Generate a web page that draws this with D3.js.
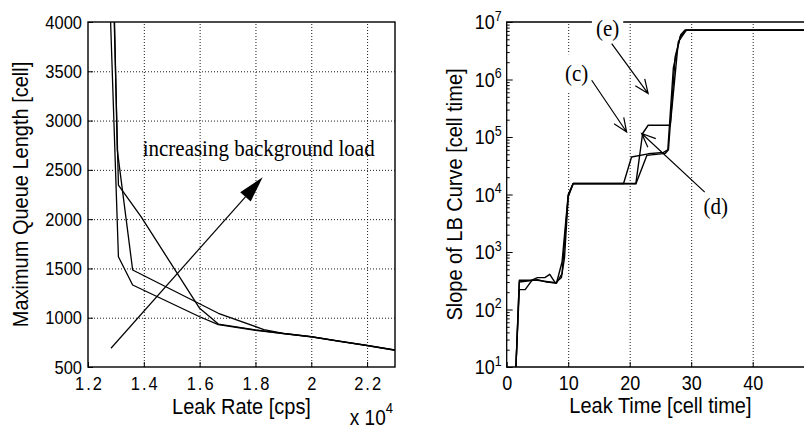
<!DOCTYPE html>
<html>
<head>
<meta charset="utf-8">
<script src="https://cdn.jsdelivr.net/npm/d3@7"></script>
<style>
  body { margin: 0; background: #fff; }
  svg { display: block; }
</style>
</head>
<body>
<script>
// ---- Left chart data: leak rate (x 10^4 cps) vs maximum queue length (cell)
const rateTicks = [1.2, 1.4, 1.6, 1.8, 2, 2.2];
const queueTicks = [500, 1000, 1500, 2000, 2500, 3000, 3500, 4000];
const queueLow = [[1.281, 4000], [1.309, 1619], [1.360, 1332], [1.60, 1010], [1.667, 930], [1.80, 873], [1.90, 838], [2.0, 805], [2.1, 760], [2.2, 716], [2.3, 670]];
const queueMid = [[1.295, 4000], [1.305, 2700], [1.360, 1484], [1.667, 1045], [1.83, 880], [1.90, 842], [2.0, 808], [2.1, 763], [2.2, 719], [2.3, 673]];
const queueHigh = [[1.294, 4000], [1.309, 2346], [1.39, 2025], [1.60, 1095], [1.667, 935], [1.80, 876], [1.90, 840], [2.0, 807], [2.1, 762], [2.2, 718], [2.3, 672]];

// ---- Right chart data: leak time (cell time) vs slope of LB curve (cell time)
const timeTicks = [0, 10, 20, 30, 40];
const timeGrid = [10, 20, 30, 40, 50];
const slopeDecades = [1e1, 1e2, 1e3, 1e4, 1e5, 1e6, 1e7];
const slopeC = [[1.5, 10], [2.05, 322], [4.0, 322], [5.0, 359], [6.2, 359], [7.0, 409], [7.9, 289], [8.9, 360], [9.4, 800], [10.0, 9000], [10.8, 15500], [19.0, 15500], [20.3, 45000], [23.0, 51000], [25.5, 54000], [26.2, 60000], [27.1, 1.6e6], [28.2, 5.5e6], [29.2, 7.2e6], [52, 7.2e6]];
const slopeD = [[1.5, 10], [2.05, 222], [3.0, 222], [4.1, 322], [5.0, 322], [8.1, 289], [9.0, 670], [10.0, 10000], [10.8, 15500], [21.0, 15500], [22.1, 115000], [23.0, 160000], [26.6, 160000], [27.9, 4.5e6], [29.2, 7.2e6], [52, 7.2e6]];
const slopeE = [[1.5, 10], [2.05, 300], [5.0, 330], [6.5, 300], [8.1, 289], [9.0, 420], [10.0, 9500], [10.8, 15300], [21.0, 15300], [22.8, 48000], [25.8, 52000], [26.3, 60000], [27.4, 2.5e6], [28.3, 6e6], [29.0, 7.3e6], [52, 7.3e6]];

// ---- Annotations (data coordinates)
const loadArrow = { from: [1.2824, 690], to: [1.826, 2424] };
const loadText = { text: 'increasing background load', at: [1.396, 2651] };
const curveLabels = [
    { text: '(c)', at: [11.38, 9.7e5] },
    { text: '(e)', at: [16.4, 5.9e6] },
    { text: '(d)', at: [34.0, 4700] }
];
const curveArrows = [
    { from: [13.82, 9.7e5], to: [19.5, 1.22e5] },
    { from: [17.07, 4.2e6], to: [23.0, 5.7e5] },
    { from: [32.2, 1.1e4], to: [21.95, 1.15e5] }
];

const sans = '"Liberation Sans", Arial, Helvetica, sans-serif';
const serif = '"Liberation Serif", "Times New Roman", serif';
const textStretch = 1.12; // glyphs in the original are a bit taller than wide

const svg = d3.select('body').append('svg')
    .attr('width', 804)
    .attr('height', 431);

// Function to draw an open (V shaped) arrow head
function openHead(x1, y1, x2, y2, len, ang) {
    const a = Math.atan2(y2 - y1, x2 - x1);
    const p1 = [x2 - len * Math.cos(a - ang), y2 - len * Math.sin(a - ang)];
    const p2 = [x2 - len * Math.cos(a + ang), y2 - len * Math.sin(a + ang)];
    return `M${p1[0]},${p1[1]}L${x2},${y2}L${p2[0]},${p2[1]}`;
}

// Function to style axis text
function styleTicks(g, size) {
    g.attr('font-family', sans).attr('font-size', size);
    g.select('.domain').remove();
    g.selectAll('.tick line').attr('stroke', '#000').attr('stroke-width', 1);
    g.selectAll('.tick text').attr('fill', '#000');
}

// Function to stretch texts vertically around their own centre
function stretchText(sel, s) {
    sel.each(function () {
        const b = this.getBBox();
        const cy = b.y + b.height / 2;
        const prev = d3.select(this).attr('transform') || '';
        d3.select(this).attr('transform', `${prev} translate(0,${cy * (1 - s)}) scale(1,${s})`);
    });
}

// ================= LEFT PANEL =================
function drawLeft() {
    const x = d3.scaleLinear().domain([1.2, 2.3]).range([88, 395]);
    const y = d3.scaleLinear().domain([500, 4000]).range([367, 22]);
    const top = y.range()[1], bottom = y.range()[0];
    const left = x.range()[0], right = x.range()[1];

    const g = svg.append('g');

    // Clip for the curves
    svg.append('clipPath').attr('id', 'clipL')
        .append('rect').attr('x', left).attr('y', top)
        .attr('width', right - left).attr('height', bottom - top);

    // Dotted grid
    g.append('g')
        .attr('transform', `translate(0,${bottom})`)
        .call(d3.axisBottom(x).tickValues(rateTicks.slice(1)).tickSize(-(bottom - top)).tickFormat(''))
        .call(a => a.select('.domain').remove())
        .selectAll('line').attr('stroke', '#000').attr('stroke-width', 0.9).attr('stroke-dasharray', '1,2');
    g.append('g')
        .attr('transform', `translate(${left},0)`)
        .call(d3.axisLeft(y).tickValues(queueTicks.slice(1, -1)).tickSize(-(right - left)).tickFormat(''))
        .call(a => a.select('.domain').remove())
        .selectAll('line').attr('stroke', '#000').attr('stroke-width', 0.9).attr('stroke-dasharray', '1,2');

    // Axes with inward ticks
    g.append('g')
        .attr('transform', `translate(0,${bottom})`)
        .call(d3.axisBottom(x).tickValues(rateTicks).tickSize(-5).tickPadding(11).tickFormat(d => String(d)))
        .call(a => styleTicks(a, 16.5))
        .selectAll('.tick text').attr('letter-spacing', 2).attr('dx', 1);
    g.append('g')
        .attr('transform', `translate(${left},0)`)
        .call(d3.axisLeft(y).tickValues(queueTicks).tickSize(-5).tickPadding(6).tickFormat(d => String(d)))
        .call(a => styleTicks(a, 16.5));

    // Box
    g.append('rect')
        .attr('x', left).attr('y', top)
        .attr('width', right - left).attr('height', bottom - top)
        .attr('fill', 'none').attr('stroke', '#000').attr('stroke-width', 1.4);

    // Curves
    const line = d3.line().x(d => x(d[0])).y(d => y(d[1]));
    g.append('g').attr('clip-path', 'url(#clipL)')
        .selectAll('path')
        .data([queueLow, queueMid, queueHigh])
        .enter().append('path')
        .attr('d', line)
        .attr('fill', 'none').attr('stroke', '#000').attr('stroke-width', 1.3)
        .attr('stroke-linejoin', 'round');

    // Arrow for increasing load (filled head)
    const x1 = x(loadArrow.from[0]), y1 = y(loadArrow.from[1]);
    const x2 = x(loadArrow.to[0]), y2 = y(loadArrow.to[1]);
    const a = Math.atan2(y2 - y1, x2 - x1);
    const headLen = 26, headW = 7;
    const bx = x2 - headLen * Math.cos(a), by = y2 - headLen * Math.sin(a);
    g.append('line')
        .attr('x1', x1).attr('y1', y1).attr('x2', bx).attr('y2', by)
        .attr('stroke', '#000').attr('stroke-width', 1.2);
    g.append('polygon')
        .attr('points', [
            [x2, y2],
            [bx + headW * Math.sin(a), by - headW * Math.cos(a)],
            [bx - headW * Math.sin(a), by + headW * Math.cos(a)]
        ].map(p => p.join(',')).join(' '))
        .attr('fill', '#000');

    g.append('text')
        .attr('x', x(loadText.at[0])).attr('y', y(loadText.at[1]))
        .attr('font-family', serif).attr('font-size', 21)
        .text(loadText.text);

    // Axis labels
    g.append('text')
        .attr('x', (left + right) / 2).attr('y', 413)
        .attr('text-anchor', 'middle')
        .attr('font-family', sans).attr('font-size', 20)
        .text('Leak Rate [cps]');
    g.append('text')
        .attr('transform', `translate(27,${(top + bottom) / 2}) rotate(-90)`)
        .attr('text-anchor', 'middle')
        .attr('font-family', sans).attr('font-size', 20)
        .text('Maximum Queue Length [cell]');

    // Exponent note
    const mult = g.append('text')
        .attr('x', 393).attr('y', 424)
        .attr('text-anchor', 'end')
        .attr('font-family', sans).attr('font-size', 19);
    mult.append('tspan').text('x 10');
    mult.append('tspan').attr('dy', -11).attr('font-size', 13).text('4');
}

// ================= RIGHT PANEL =================
function drawRight() {
    const x = d3.scaleLinear().domain([0, 50]).range([506.7, 814.2]);
    const y = d3.scaleLog().domain([10, 1e7]).range([367, 22]);
    const top = y.range()[1], bottom = y.range()[0];
    const left = x.range()[0], right = x.range()[1];

    const g = svg.append('g');

    svg.append('clipPath').attr('id', 'clipR')
        .append('rect').attr('x', left).attr('y', top - 2)
        .attr('width', right - left).attr('height', bottom - top + 2);

    // Vertical dotted grid
    g.append('g')
        .attr('transform', `translate(0,${bottom})`)
        .call(d3.axisBottom(x).tickValues(timeGrid).tickSize(-(bottom - top)).tickFormat(''))
        .call(a => a.select('.domain').remove())
        .selectAll('line').attr('stroke', '#000').attr('stroke-width', 0.9).attr('stroke-dasharray', '1,2');

    // Bottom axis
    g.append('g')
        .attr('transform', `translate(0,${bottom})`)
        .call(d3.axisBottom(x).tickValues(timeTicks).tickSize(-5).tickPadding(10).tickFormat(d => String(d)))
        .call(a => styleTicks(a, 18));

    // Left log axis with minor ticks
    const minor = [];
    slopeDecades.slice(0, -1).forEach(d => { for (let k = 2; k <= 9; k++) minor.push(d * k); });
    g.append('g')
        .attr('transform', `translate(${left},0)`)
        .call(d3.axisLeft(y).tickValues(minor).tickSize(-3).tickFormat(''))
        .call(a => styleTicks(a, 10));
    const yAxis = g.append('g')
        .attr('transform', `translate(${left},0)`)
        .call(d3.axisLeft(y).tickValues(slopeDecades).tickSize(-6).tickPadding(5).tickFormat(''))
        .call(a => styleTicks(a, 18));
    yAxis.selectAll('.tick text').each(function (d) {
        const t = d3.select(this);
        t.append('tspan').text('10');
        t.append('tspan').attr('dy', '-0.6em').attr('font-size', 12.5).text(Math.round(Math.log10(d)));
    });

    // Frame lines (right edge falls outside the picture)
    g.append('path')
        .attr('d', `M${right},${top}H${left}V${bottom}H${right}`)
        .attr('fill', 'none').attr('stroke', '#000').attr('stroke-width', 1.3);

    // Curves
    const line = d3.line().x(d => x(d[0])).y(d => y(d[1]));
    g.append('g').attr('clip-path', 'url(#clipR)')
        .selectAll('path')
        .data([slopeC, slopeD, slopeE])
        .enter().append('path')
        .attr('d', line)
        .attr('fill', 'none').attr('stroke', '#000').attr('stroke-width', 1.4)
        .attr('stroke-linejoin', 'round');

    // Labels with white background boxes
    curveLabels.forEach(n => {
        const lg = g.append('g');
        const t = lg.append('text')
            .attr('x', x(n.at[0])).attr('y', y(n.at[1]))
            .attr('text-anchor', 'middle')
            .attr('font-family', serif).attr('font-size', 21)
            .text(n.text);
        const b = t.node().getBBox();
        lg.insert('rect', 'text')
            .attr('x', b.x - 4).attr('y', b.y - 7)
            .attr('width', b.width + 8).attr('height', b.height + 14)
            .attr('fill', '#fff');
    });

    // Arrows with open heads
    curveArrows.forEach(n => {
        const x1 = x(n.from[0]), y1 = y(n.from[1]);
        const x2 = x(n.to[0]), y2 = y(n.to[1]);
        g.append('path')
            .attr('d', `M${x1},${y1}L${x2},${y2}` + openHead(x1, y1, x2, y2, 15, 0.4))
            .attr('fill', 'none').attr('stroke', '#000').attr('stroke-width', 1.2);
    });

    // Axis labels
    g.append('text')
        .attr('x', (left + right) / 2).attr('y', 412)
        .attr('text-anchor', 'middle')
        .attr('font-family', sans).attr('font-size', 20)
        .text('Leak Time [cell time]');
    g.append('text')
        .attr('transform', `translate(461.5,${(top + bottom) / 2}) rotate(-90)`)
        .attr('text-anchor', 'middle')
        .attr('font-family', sans).attr('font-size', 20)
        .text('Slope of LB Curve [cell time]');
}

drawLeft();
drawRight();

// Taller glyphs, as in the original
stretchText(svg.selectAll('text'), textStretch);
</script>
</body>
</html>
